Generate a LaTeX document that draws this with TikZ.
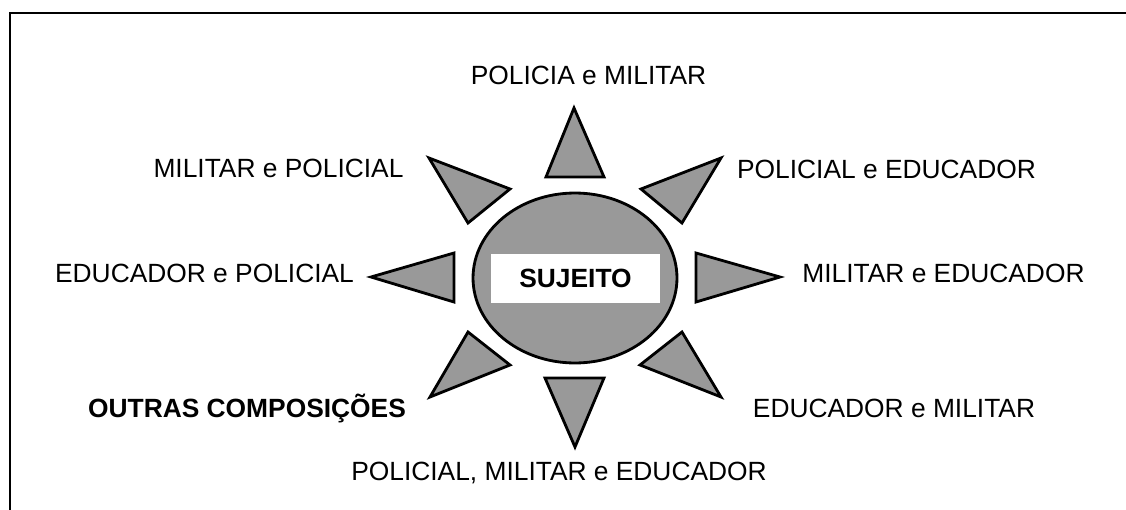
\documentclass[tikz,border=0pt]{standalone}
\usepackage{fontspec}
\setmainfont{Liberation Sans}
\usetikzlibrary{positioning, shapes.geometric}
\definecolor{sungray}{HTML}{999999}

\begin{document}
\begin{tikzpicture}[
            x=0.02cm, y=-0.02cm,
            ray/.style={draw=black, line width=1.6pt, fill=sungray, line join=miter},
            core/.style={ellipse, draw=black, line width=1.6pt, fill=sungray, minimum width=4.08cm, minimum height=3.4cm, inner sep=0pt},
            tag/.style={fill=white, minimum width=3.38cm, minimum height=0.98cm, inner sep=0pt, font=\fontsize{15}{18}\selectfont\bfseries},
            word/.style={font=\fontsize{15}{18}\selectfont, inner sep=0pt, anchor=base},
        ]
            \useasboundingbox (0,0) rectangle (1126,510);

            % Draw the frame
            \draw[line width=1.1pt] (10,510) -- (10,13) -- (1126,13);

            % Draw the centre of the sun
            \node[core] (sun) at (575,278) {};
            \node[tag] (sujeito) at (575.5,278.5) {SUJEITO};

            % Draw the rays around the centre
            \foreach \ax/\ay/\bx/\by/\cx/\cy in {574/108/546/177/604/177, 429/158/510/189/468/223,
                721/158/641/189/682/223, 371/277/454/253/454/302, 780/277/696/253/696/302,
                468/332/510/365/430/397, 682/332/640/365/721/397, 545/378/604/378/575/447}
                \draw[ray] (\ax,\ay) -- (\bx,\by) -- (\cx,\cy) -- cycle;

            % Draw the labels of the rays
            \node[word] (pm) at (588.5,85) {POLICIA e MILITAR};
            \node[word] (mp) at (278.5,177) {MILITAR e POLICIAL};
            \node[word] (pe) at (886.5,178) {POLICIAL e EDUCADOR};
            \node[word] (ep) at (204.5,282) {EDUCADOR e POLICIAL};
            \node[word] (me) at (943.5,282) {MILITAR e EDUCADOR};
            \node[word, font=\fontsize{15}{18}\selectfont\bfseries] (oc) at (247,417) {OUTRAS COMPOSIÇÕES};
            \node[word] (em) at (894,417) {EDUCADOR e MILITAR};
            \node[word] (pme) at (559,480) {POLICIAL, MILITAR e EDUCADOR};
        \end{tikzpicture}
\end{document}
